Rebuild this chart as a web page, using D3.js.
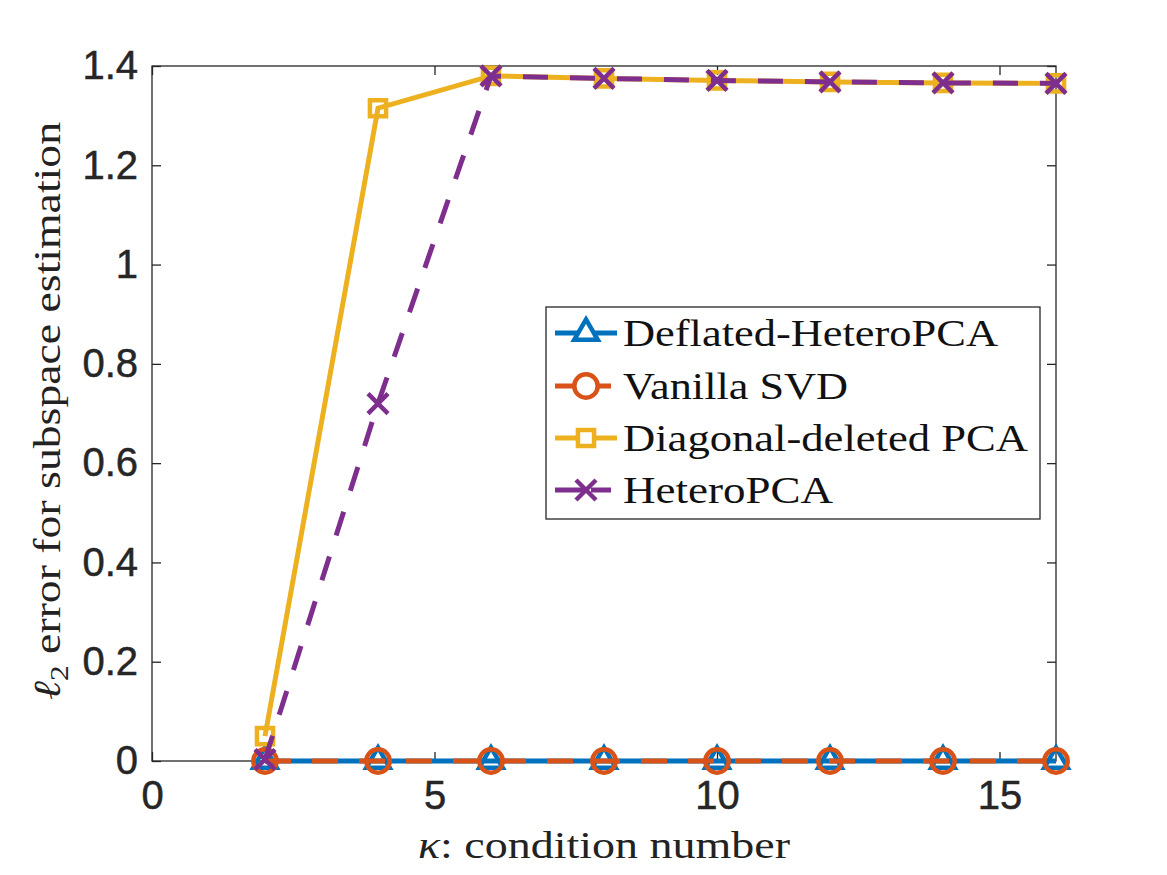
<!DOCTYPE html>
<html>
<head>
<meta charset="utf-8">
<script src="https://cdn.jsdelivr.net/npm/d3@7"></script>
<style>
  body { margin: 0; background: #fff; }
</style>
</head>
<body>
<script>
// data
var kappa = [2, 4, 6, 8, 10, 12, 14, 16];
var deflatedHetero = [0, 0, 0, 0, 0, 0, 0, 0];
var vanillaSvd = [0, 0, 0, 0, 0, 0, 0, 0];
var diagDeleted = [0.05, 1.315, 1.38, 1.375, 1.371, 1.368, 1.366, 1.365];
var heteroPca = [0.003, 0.72, 1.38, 1.375, 1.371, 1.368, 1.366, 1.365];
var seriesNames = ["Deflated-HeteroPCA", "Vanilla SVD", "Diagonal-deleted PCA", "HeteroPCA"];
var xTicks = [0, 5, 10, 15];
var yTicks = [0, 0.2, 0.4, 0.6, 0.8, 1, 1.2, 1.4];

var width = 1167, height = 875;
var margin = { top: 66, right: 111, bottom: 114, left: 152 };
var axisColor = "#262626";

var svg = d3.select("body").append("svg")
    .attr("width", width)
    .attr("height", height);

var x = d3.scaleLinear().domain([0, 16]).range([margin.left, width - margin.right]);
var y = d3.scaleLinear().domain([0, 1.4]).range([height - margin.bottom, margin.top]);

// series styles (MATLAB default colours)
var series = [
    { name: seriesNames[0], values: deflatedHetero, color: "#0072BD", dash: null, marker: "triangle" },
    { name: seriesNames[1], values: vanillaSvd, color: "#D95319", dash: "26,21", marker: "circle" },
    { name: seriesNames[2], values: diagDeleted, color: "#EDB120", dash: null, marker: "square" },
    { name: seriesNames[3], values: heteroPca, color: "#7E2F8E", dash: "25,22", marker: "x" }
];

function markerPath(type) {
    if (type == "triangle") return d3.symbol().type(d3.symbolTriangle).size(240)();
    if (type == "circle") return d3.symbol().type(d3.symbolCircle).size(430)();
    if (type == "square") return d3.symbol().type(d3.symbolSquare).size(260)();
    var s = 10;
    return "M" + (-s) + "," + (-s) + "L" + s + "," + s + "M" + (-s) + "," + s + "L" + s + "," + (-s);
}

// axes: ticks pointing inward on all four sides
var fmt = d3.format("~g");
var bottomAxis = svg.append("g")
    .attr("transform", "translate(0," + y(0) + ")")
    .call(d3.axisBottom(x).tickValues(xTicks).tickSizeInner(-9).tickSizeOuter(0).tickPadding(20).tickFormat(fmt));
var leftAxis = svg.append("g")
    .attr("transform", "translate(" + x(0) + ",0)")
    .call(d3.axisLeft(y).tickValues(yTicks).tickSizeInner(-9).tickSizeOuter(0).tickPadding(14).tickFormat(fmt));
var topAxis = svg.append("g")
    .attr("transform", "translate(0," + y(1.4) + ")")
    .call(d3.axisTop(x).tickValues(xTicks).tickSizeInner(-9).tickSizeOuter(0).tickFormat(""));
var rightAxis = svg.append("g")
    .attr("transform", "translate(" + x(16) + ",0)")
    .call(d3.axisRight(y).tickValues(yTicks).tickSizeInner(-9).tickSizeOuter(0).tickFormat(""));

[bottomAxis, leftAxis, topAxis, rightAxis].forEach(function (g) {
    g.select(".domain").remove();
    g.selectAll("line").attr("stroke", axisColor).attr("stroke-width", 1.3);
    g.selectAll("text")
        .attr("fill", axisColor)
        .attr("stroke", axisColor).attr("stroke-width", 0.5)
        .style("font-family", "'Liberation Sans', Arial, sans-serif")
        .style("font-size", "40px");
});

svg.append("rect")
    .attr("x", x(0)).attr("y", y(1.4))
    .attr("width", x(16) - x(0)).attr("height", y(0) - y(1.4))
    .attr("fill", "none").attr("stroke", axisColor).attr("stroke-width", 1.3);

// lines and markers
var line = d3.line()
    .x(function (d, i) { return x(kappa[i]); })
    .y(function (d) { return y(d); });

series.forEach(function (s) {
    svg.append("path")
        .datum(s.values)
        .attr("d", line)
        .attr("fill", "none")
        .attr("stroke", s.color)
        .attr("stroke-width", 5)
        .attr("stroke-dasharray", s.dash);

    svg.selectAll(null)
        .data(s.values)
        .enter().append("path")
        .attr("d", markerPath(s.marker))
        .attr("transform", function (d, i) { return "translate(" + x(kappa[i]) + "," + y(d) + ")"; })
        .attr("fill", "none")
        .attr("stroke", s.color)
        .attr("stroke-width", 4.5);
});

// axis labels
var serif = "'Liberation Serif', 'Times New Roman', serif";
var xl = svg.append("text")
    .attr("x", 604).attr("y", 858)
    .attr("text-anchor", "middle")
    .attr("textLength", 372).attr("lengthAdjust", "spacingAndGlyphs")
    .style("font-family", serif).style("font-size", "38px").attr("fill", "#222");
xl.append("tspan").style("font-style", "italic").text("κ");
xl.append("tspan").text(": condition number");

var yl = svg.append("text")
    .attr("transform", "translate(60,411) rotate(-90)")
    .attr("text-anchor", "middle")
    .attr("textLength", 578).attr("lengthAdjust", "spacingAndGlyphs")
    .style("font-family", serif).style("font-size", "38px").attr("fill", "#222");
yl.append("tspan").style("font-style", "italic").text("ℓ");
yl.append("tspan").attr("dy", 8).style("font-size", "26px").text("2");
yl.append("tspan").attr("dy", -8).text(" error for subspace estimation");

// legend
var legendBox = { x: 546, y: 307, w: 494, h: 212 };
var legendRows = [333, 386, 438, 490];
var legendWidths = [375, 225, 405, 210];
var legend = svg.append("g");
legend.append("rect")
    .attr("x", legendBox.x).attr("y", legendBox.y)
    .attr("width", legendBox.w).attr("height", legendBox.h)
    .attr("fill", "#fff").attr("stroke", axisColor).attr("stroke-width", 1.3);

series.forEach(function (s, i) {
    var ly = legendRows[i];
    legend.append("line")
        .attr("x1", 555).attr("x2", 617).attr("y1", ly).attr("y2", ly)
        .attr("stroke", s.color).attr("stroke-width", 5)
        .attr("stroke-dasharray", s.dash ? "28,8,20" : null);
    legend.append("path")
        .attr("d", markerPath(s.marker))
        .attr("transform", "translate(586," + ly + ")")
        .attr("fill", s.marker == "x" ? "none" : "#fff")
        .attr("stroke", s.color).attr("stroke-width", 4.5);
    legend.append("text")
        .attr("x", 623).attr("y", ly).attr("dy", "0.34em")
        .attr("textLength", legendWidths[i]).attr("lengthAdjust", "spacingAndGlyphs")
        .style("font-family", serif).style("font-size", "38px").attr("fill", "#111")
        .text(s.name);
});
</script>
</body>
</html>
